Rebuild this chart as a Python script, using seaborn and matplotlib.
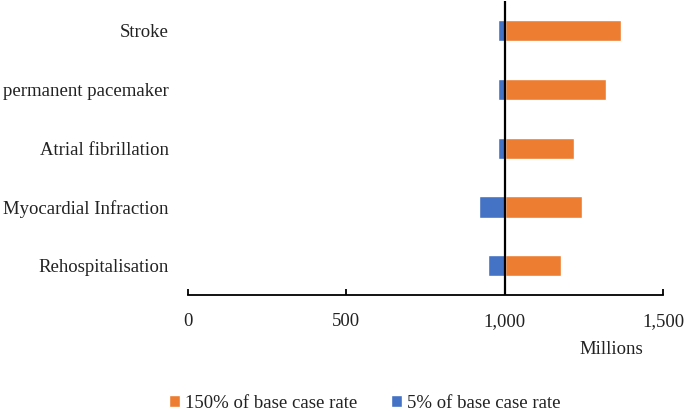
import numpy as np
import pandas as pd
import matplotlib
matplotlib.use('Agg')
import matplotlib.pyplot as plt
from matplotlib.ticker import StrMethodFormatter
import seaborn as sns

# outcomes, top to bottom
outcomes = ['Stroke', 'permanent pacemaker', 'Atrial fibrillation',
            'Myocardial Infraction', 'Rehospitalisation']
# total cost (millions) under each scenario
high_rate = [1366, 1321, 1220, 1245, 1178]   # 150% of base case rate
low_rate = [978, 978, 978, 920, 946]         # 5% of base case rate
base_cost = 1000

df = pd.DataFrame({
    'outcome': outcomes,
    'high': np.array(high_rate) - base_cost,
    'low': np.array(low_rate) - base_cost,
})

sns.set_style('white')
plt.rcParams['font.family'] = ['Liberation Serif', 'DejaVu Serif']
fs = 13.5

fig = plt.figure(figsize=(6.85, 4.11), dpi=100)
ax = fig.add_axes([188 / 685, 1 - 295 / 411, 475 / 685, 293.5 / 411])

sns.barplot(data=df, y='outcome', x='high', order=outcomes, color='#ED7D31',
            width=0.36, left=base_cost, saturation=1, errorbar=None,
            label='150% of base case rate', ax=ax)
sns.barplot(data=df, y='outcome', x='low', order=outcomes, color='#4472C4',
            width=0.36, left=base_cost, saturation=1, errorbar=None,
            label='5% of base case rate', ax=ax)
if ax.get_legend() is not None:
    ax.get_legend().remove()

ax.axvline(base_cost, color='black', lw=1.6, zorder=3)
ax.set_xlim(0, 1500)
ax.set_xticks([0, 500, 1000, 1500])
ax.xaxis.set_major_formatter(StrMethodFormatter('{x:,.0f}'))
ax.set_xlabel('')
ax.set_ylabel('')

for s in ['top', 'right', 'left']:
    ax.spines[s].set_visible(False)
ax.spines['bottom'].set_color('black')
ax.spines['bottom'].set_linewidth(1.3)
ax.tick_params(axis='y', left=False, length=0, pad=14, labelsize=fs,
               colors='#222222')
ax.tick_params(axis='x', bottom=True, direction='in', length=4, width=1.3,
               color='black', pad=13, labelsize=fs, labelcolor='#222222')

fig.text(611 / 685, 1 - 350 / 411, 'Millions', ha='center', va='center',
         fontsize=fs, color='#222222')

handles, labels = ax.get_legend_handles_labels()
fig.legend(handles, labels, loc='center', bbox_to_anchor=(365 / 685, 1 - 403 / 411),
           ncol=2, frameon=False, handlelength=0.55, handleheight=0.55,
           handletextpad=0.3, columnspacing=1.8, fontsize=fs,
           labelcolor='#222222')

fig.savefig('out.png', dpi=100)
